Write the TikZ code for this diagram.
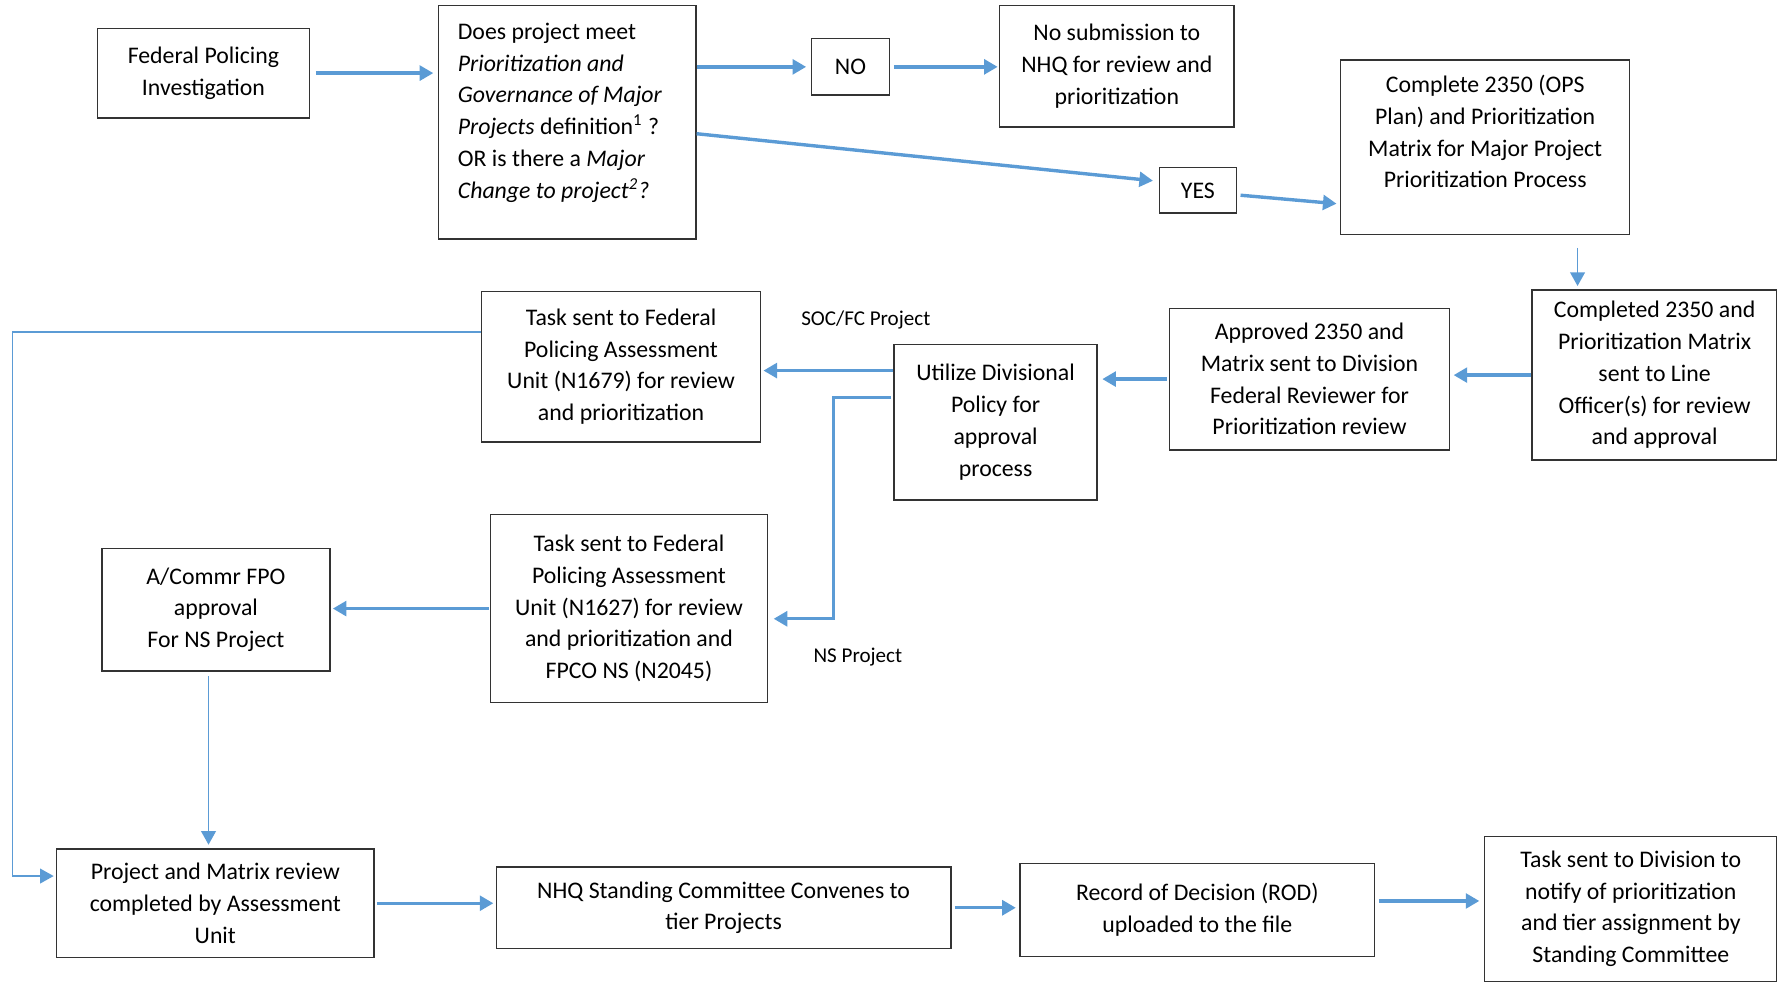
\documentclass[tikz,border=0pt]{standalone}
\usepackage{fontspec}
\setmainfont{Carlito}
\usetikzlibrary{arrows.meta}
\definecolor{flowblue}{HTML}{5B9BD5}

\begin{document}
\begin{tikzpicture}[x=0.5pt,y=-0.5pt,
	box/.style={draw=black!80, line width=0.65pt, align=center, inner sep=2pt, font=\fontsize{10.5}{14}\selectfont},
	flow/.style={draw=flowblue, line width=1.5pt, -{Triangle[length=6pt,width=6.5pt]}},
	thinflow/.style={flow, line width=0.7pt},
	tag/.style={font=\fontsize{9.3}{11}\selectfont}]
\useasboundingbox (0,0) rectangle (1568,866);
%top row
\node[box, minimum width=93.5pt, minimum height=39.5pt] (fpi) at (179.5,64.5) {Federal Policing\\Investigation};
\node[box, align=flush left, text width=96.5pt, inner xsep=8.5pt, minimum height=103pt] (q) at (500.5,108) {Does project meet\\\textit{Prioritization and}\\\textit{Governance of Major}\\\textit{Projects} definition\textsuperscript{\upshape 1} ?\\OR is there a \textit{Major}\\\textit{Change to project\textsuperscript{2}?}\\[-3.5pt]\mbox{}};
\node[box, minimum width=34.5pt, minimum height=25pt] (no) at (750.5,59) {NO};
\node[box, minimum width=103.5pt, minimum height=53.5pt] (nosub) at (985.5,58.5) {No submission to\\NHQ for review and\\prioritization};
\node[box, minimum width=34pt, minimum height=20pt] (yes) at (1057,168) {YES};
\node[box, minimum width=127.5pt, minimum height=77pt] (complete) at (1310.5,130) {Complete 2350 (OPS\\Plan) and Prioritization\\Matrix for Major Project\\Prioritization Process\\\mbox{}};
%middle rows
\node[box, minimum width=108pt, minimum height=75pt] (completed) at (1460,331) {Completed 2350 and\\Prioritization Matrix\\sent to Line\\Officer(s) for review\\and approval};
\node[box, minimum width=123.5pt, minimum height=62.5pt] (approved) at (1155.5,334.5) {Approved 2350 and\\Matrix sent to Division\\Federal Reviewer for\\Prioritization review};
\node[box, minimum width=89.5pt, minimum height=68.5pt] (utilize) at (878.5,372.5) {Utilize Divisional\\Policy for\\approval\\process};
\node[box, minimum width=123pt, minimum height=66.5pt] (n1679) at (548,323.5) {Task sent to Federal\\Policing Assessment\\Unit (N1679) for review\\and prioritization};
\node[box, minimum width=122pt, minimum height=83pt] (n1627) at (555,537) {Task sent to Federal\\Policing Assessment\\Unit (N1627) for review\\and prioritization and\\FPCO NS (N2045)};
\node[box, minimum width=100.5pt, minimum height=54pt] (acommr) at (190.5,538) {A/Commr FPO\\approval\\For NS Project};
\node[tag] (socfc) at (764,282) {SOC/FC Project};
\node[tag] (nsproj) at (757,580) {NS Project};
%bottom row
\node[box, minimum width=140pt, minimum height=48pt] (projmatrix) at (190,797) {Project and Matrix review\\completed by Assessment\\Unit};
\node[box, minimum width=200.5pt, minimum height=36pt] (nhq) at (638.5,801) {NHQ Standing Committee Convenes to\\tier Projects};
\node[box, minimum width=156.5pt, minimum height=41pt] (rod) at (1056.5,803) {Record of Decision (ROD)\\uploaded to the file};
\node[box, minimum width=129pt, minimum height=64pt] (taskdiv) at (1439,802) {Task sent to Division to\\notify of prioritization\\and tier assignment by\\Standing Committee};
%helper points
\coordinate (qy) at ([yshift=-5pt]q.east);
\coordinate (yy) at ([yshift=4pt]yes.west);
\coordinate (cd) at ([xshift=40.75pt]complete.south);
\coordinate (u1) at ([yshift=22.75pt]utilize.west);
\coordinate (u2) at ([yshift=10.75pt]utilize.west);
\coordinate (n2) at ([yshift=-4.5pt]n1627.east);
\coordinate (a1) at ([xshift=-3.25pt]acommr.south);
\coordinate (n1) at ([yshift=15.25pt]n1679.west);
\coordinate (p1) at ([yshift=12pt]projmatrix.west);
\coordinate (lftrail) at (11,0);
\coordinate (r1) at ([yshift=4pt]rod.east);
%connectors
\draw[flow, shorten <=2.5pt, shorten >=2pt] (fpi.east) -- (fpi.east -| q.west);
\draw[flow, shorten >=2pt] (q.east |- no.west) -- (no.west);
\draw[flow, shorten <=1.5pt, shorten >=0.5pt] (no.east) -- (no.east -| nosub.west);
\draw[flow, shorten >=2.5pt] (qy) -- (yy);
\draw[flow, shorten <=1.5pt, shorten >=1.5pt] ([yshift=-2pt]yes.east) -- ([yshift=-25pt]complete.west);
\draw[thinflow, shorten <=5.5pt, shorten >=1.5pt] (cd) -- (cd |- completed.north);
\draw[flow, shorten >=1.5pt] (completed.west) -- (completed.west -| approved.east);
\draw[flow, shorten <=1pt, shorten >=2pt] (approved.west) -- (approved.west -| utilize.east);
\draw[flow, shorten >=1pt] (u1) -- (u1 -| n1679.east);
\draw[flow, shorten <=1pt, shorten >=2.5pt] (u2) -- ++(-26.5pt,0) |- (n2);
\draw[flow, shorten <=0.5pt, shorten >=1pt] (n1627.west) -- (n1627.west -| acommr.east);
\draw[thinflow, shorten <=2pt, shorten >=1.5pt] (a1) -- (a1 |- projmatrix.north);
\draw[thinflow, shorten >=1pt] (n1) -- (n1 -| lftrail) |- (p1);
\draw[flow, shorten <=1pt, shorten >=1pt] (projmatrix.east) -- (projmatrix.east -| nhq.west);
\draw[flow, shorten <=1.5pt, shorten >=1.5pt] (nhq.east) -- (nhq.east -| rod.west);
\draw[flow, shorten <=1.5pt, shorten >=2pt] (r1) -- (r1 -| taskdiv.west);
\end{tikzpicture}
\end{document}
